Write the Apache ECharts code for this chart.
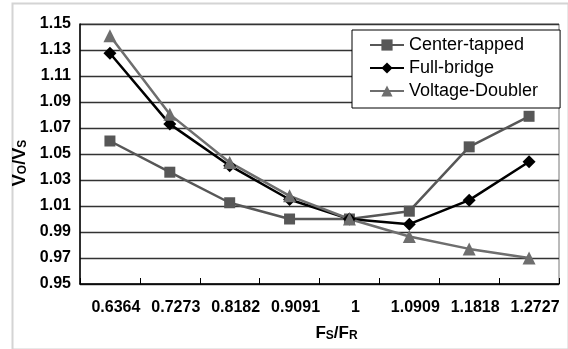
<!DOCTYPE html>
<html>
<head>
<meta charset="utf-8">
<script src="https://cdn.jsdelivr.net/npm/echarts@6/dist/echarts.min.js"></script>
<style>
html,body{margin:0;padding:0;background:#fff;}
#c{width:568px;height:349px;}
</style>
</head>
<body>
<div id="c"></div>
<script>
const categories = ['0.6364','0.7273','0.8182','0.9091','1','1.0909','1.1818','1.2727'];
const centerTapped = [1.060, 1.036, 1.0125, 1.000, 1.000, 1.006, 1.0555, 1.079];
const fullBridge   = [1.1275, 1.073, 1.041, 1.015, 1.000, 0.996, 1.0145, 1.044];
const voltageDoubler = [1.141, 1.0805, 1.0435, 1.0178, 1.000, 0.9865, 0.977, 0.970];
const yMin = 0.95, yMax = 1.15, yStep = 0.02;

const FONT = 'Liberation Sans, Arial, sans-serif';
const chart = echarts.init(document.getElementById('c'), null, {renderer:'canvas'});
chart.setOption({
  animation:false,
  backgroundColor:'#fff',
  graphic:[{
    type:'rect', left:10, top:1, shape:{width:556, height:346},
    style:{fill:'none', stroke:'#d4d4d4', lineWidth:2}, z:-1
  }],
  grid:{left:80, right:9, top:24, bottom:65, show:true, borderColor:'#777', borderWidth:1},
  legend:{
    orient:'vertical', left:352, top:30,
    backgroundColor:'#fff', borderColor:'#000', borderWidth:1,
    padding:[5,22,7,17], itemGap:3, itemWidth:34, itemHeight:14,
    textStyle:{fontFamily:FONT, fontSize:18, color:'#000', lineHeight:20},
    data:['Center-tapped','Full-bridge','Voltage-Doubler']
  },
  xAxis:{
    type:'category', data:categories, boundaryGap:true,
    axisLine:{lineStyle:{color:'#000', width:1.5}},
    axisTick:{show:true, inside:true, length:6, lineStyle:{color:'#000'}},
    axisLabel:{interval:0, hideOverlap:false, fontFamily:FONT, fontSize:16, fontWeight:'bold', color:'#000', margin:16, padding:[0,0,0,12]},
    name:'F{s|S}/F{s|R}', nameLocation:'middle', nameGap:40,
    nameTextStyle:{fontFamily:FONT, fontSize:17, fontWeight:'bold', color:'#000', padding:[0,0,0,34],
      rich:{s:{fontFamily:FONT, fontSize:12, fontWeight:'bold', color:'#000', verticalAlign:'bottom', padding:[6,0,0,0]}}}
  },
  yAxis:{
    type:'value', min:yMin, max:yMax, interval:yStep,
    axisLine:{show:true, lineStyle:{color:'#000', width:1.5}},
    axisTick:{show:false},
    splitLine:{lineStyle:{color:'#333', width:1.3}},
    axisLabel:{fontFamily:FONT, fontSize:16, fontWeight:'bold', color:'#000', margin:9,
      formatter:v=>v.toFixed(2)},
    name:'V{s|O}/V{s|S}', nameLocation:'middle', nameGap:50, nameRotate:90,
    nameTextStyle:{fontFamily:FONT, fontSize:18, fontWeight:'bold', color:'#000', padding:[0,18,0,0],
      rich:{s:{fontFamily:FONT, fontSize:12, fontWeight:'bold', color:'#000', verticalAlign:'bottom', padding:[6,0,0,0]}}}
  },
  series:[
    {name:'Center-tapped', type:'line', data:centerTapped, symbol:'rect', symbolSize:11,
      itemStyle:{color:'#575757'}, lineStyle:{color:'#575757', width:2.5}},
    {name:'Full-bridge', type:'line', data:fullBridge, symbol:'diamond', symbolSize:13,
      itemStyle:{color:'#000'}, lineStyle:{color:'#000', width:2.5}},
    {name:'Voltage-Doubler', type:'line', data:voltageDoubler, symbol:'triangle', symbolSize:13,
      itemStyle:{color:'#6e6e6e'}, lineStyle:{color:'#6e6e6e', width:2.5}}
  ]
});
</script>
</body>
</html>
